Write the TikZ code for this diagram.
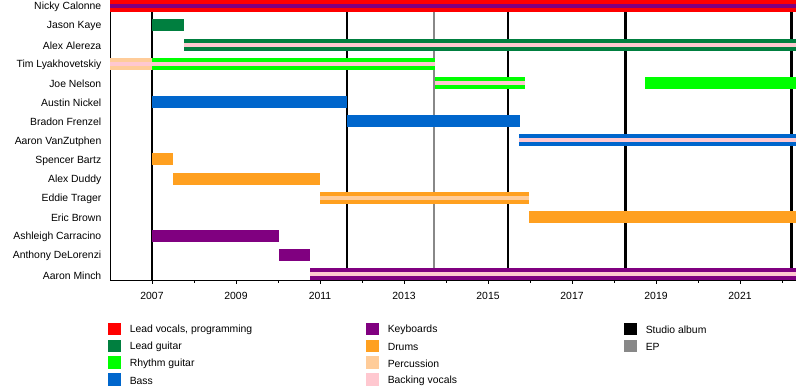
\documentclass[tikz,border=0pt]{standalone}
\usepackage{fontspec}
\setmainfont{Liberation Sans}
\usetikzlibrary{positioning}

\definecolor{vocals}{HTML}{FF0000}
\definecolor{leadgtr}{HTML}{007F3F}
\definecolor{rhythmgtr}{HTML}{00FF00}
\definecolor{bass}{HTML}{0066CC}
\definecolor{keys}{HTML}{800080}
\definecolor{drums}{HTML}{FFA020}
\definecolor{perc}{HTML}{FFCC99}
\definecolor{backing}{HTML}{FFC8D0}
\definecolor{studio}{HTML}{000000}
\definecolor{eprel}{HTML}{888888}

% year -> x, row -> y (both in px)
\newcommand\yrx[1]{{110+42*(#1-2006)}}
\newcommand\rowy[1]{{6.3+19.15*#1}}
% row, from, to, colour
\newcommand\tenure[4]{%
  \fill[#4] (\yrx{#2},{6.3+19.15*#1-6}) rectangle (\yrx{#3},{6.3+19.15*#1+6});}
% row, from, to, colour, stripe colour
\newcommand\tenurestripe[5]{%
  \tenure{#1}{#2}{#3}{#4}
  \fill[#5] (\yrx{#2},{6.3+19.15*#1-2}) rectangle (\yrx{#3},{6.3+19.15*#1+2});}

\tikzset{
  memberlabel/.style={anchor=east, inner sep=0pt, yshift=-1pt},
  yearlabel/.style={inner sep=0pt},
  swatch/.style={minimum size=12.7pt, inner sep=0pt},
  legendtext/.style={anchor=west, inner sep=0pt, yshift=-1pt},
  albumline/.style={line width=2.6pt, studio},
  epline/.style={line width=2.2pt, eprel}
}

\begin{document}
\begin{tikzpicture}[x=1pt, y=-1pt, font=\fontsize{10.4}{12}\selectfont, line cap=butt]
			\useasboundingbox (0,0) rectangle (800,390);
			% releases
			\foreach \a in {2007, 2011.64, 2015.48, 2018.28, 2022.23}
				\draw[albumline] (\yrx{\a},0) -- (\yrx{\a},280);
			\draw[epline] (\yrx{2013.72},0) -- (\yrx{2013.72},280);
			% axis
			\draw[line width=0.9pt] (110,0) -- (110,280) -- (\yrx{2022.33},280);
			\foreach \y in {2007,2009,...,2021}
				\draw[line width=0.7pt] (\yrx{\y},280) -- (\yrx{\y},284);
			\foreach \y in {2008,2010,...,2022}
				\draw[line width=0.7pt] (\yrx{\y},280) -- (\yrx{\y},282.5);
			\foreach \y in {2007,2009,...,2021}
				\node[yearlabel] (y\y) at (\yrx{\y},296) {\y};
			% members
			\foreach \who [count=\r from 0] in {Nicky Calonne, Jason Kaye, Alex Alereza,
				Tim Lyakhovetskiy, Joe Nelson, Austin Nickel, Bradon Frenzel,
				Aaron VanZutphen, Spencer Bartz, Alex Duddy, Eddie Trager, Eric Brown,
				Ashleigh Carracino, Anthony DeLorenzi, Aaron Minch}
				\node[memberlabel] (m\r) at (101.5,\rowy{\r}) {\who};
			% tenures
			\tenurestripe{0}{2006}{2022.33}{vocals}{keys}
			\tenure{1}{2007}{2007.76}{leadgtr}
			\tenurestripe{2}{2007.76}{2022.33}{leadgtr}{backing}
			\tenurestripe{3}{2006}{2007}{perc}{backing}
			\tenurestripe{3}{2007}{2013.74}{rhythmgtr}{backing}
			\tenurestripe{4}{2013.74}{2015.88}{rhythmgtr}{backing}
			\tenure{4}{2018.74}{2022.33}{rhythmgtr}
			\tenure{5}{2007}{2011.64}{bass}
			\tenure{6}{2011.64}{2015.76}{bass}
			\tenurestripe{7}{2015.74}{2022.33}{bass}{backing}
			\tenure{8}{2007}{2007.5}{drums}
			\tenure{9}{2007.5}{2011}{drums}
			\tenurestripe{10}{2011}{2015.98}{drums}{perc}
			\tenure{11}{2015.98}{2022.33}{drums}
			\tenure{12}{2007}{2010.02}{keys}
			\tenure{13}{2010.02}{2010.76}{keys}
			\tenurestripe{14}{2010.76}{2022.33}{keys}{backing}
			% legend
			\foreach \c/\t [count=\i from 0] in {vocals/{Lead vocals, programming},
				leadgtr/Lead guitar, rhythmgtr/Rhythm guitar, bass/Bass}
			{
				\node[swatch, fill=\c] (ka\i) at (114.5,{329+16.9*\i}) {};
				\node[legendtext, right=8.5pt of ka\i] (ta\i) {\t};
			}
			\foreach \c/\t [count=\i from 0] in {keys/Keyboards, drums/Drums,
				perc/Percussion, backing/Backing vocals}
			{
				\node[swatch, fill=\c] (kb\i) at (372.5,{329+16.9*\i}) {};
				\node[legendtext, right=8.5pt of kb\i] (tb\i) {\t};
			}
			\foreach \c/\t [count=\i from 0] in {studio/Studio album, eprel/EP}
			{
				\node[swatch, fill=\c] (kc\i) at (630.5,{329+16.9*\i}) {};
				\node[legendtext, right=8.5pt of kc\i] (tc\i) {\t};
			}
		\end{tikzpicture}
\end{document}
